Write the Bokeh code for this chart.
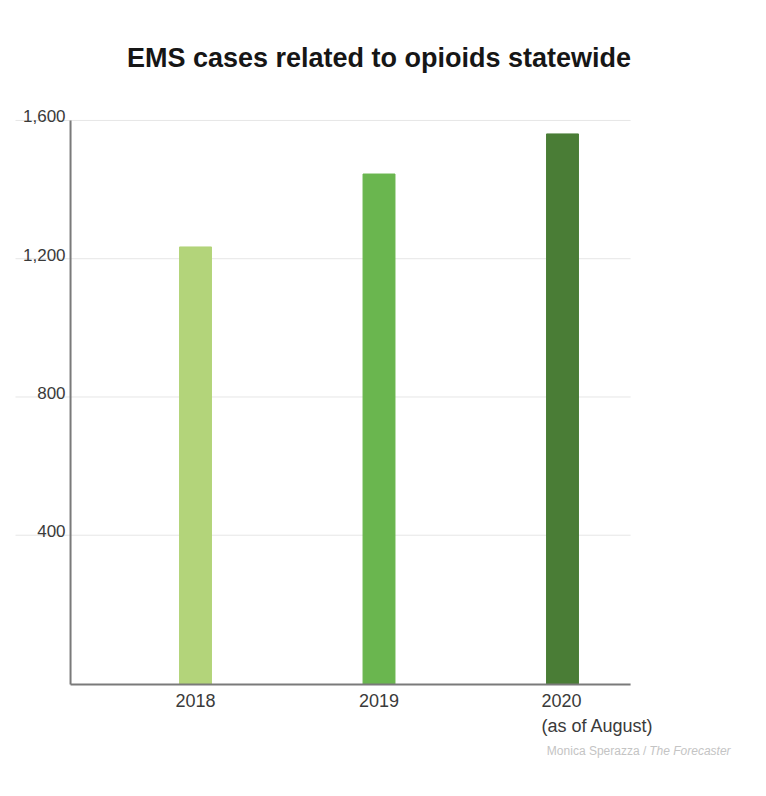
from bokeh.plotting import figure
from bokeh.models import Range1d, ColumnDataSource
from bokeh.core.properties import value
from bokeh.embed import file_html
from bokeh.resources import INLINE

# ---- data ----
categories = ["2018", "2019", "2020\n(as of August)"]
values = [1234, 1445, 1561]
colors = ["#b3d47a", "#6ab64f", "#4a7d36"]
y_ticks = [400, 800, 1200, 1600]
y_tick_labels = ["400", "800", "1,200", "1,600"]
title_text = "EMS cases related to opioids statewide"
credit_author = "Monica Sperazza / "
credit_outlet = "The Forecaster"

# ---- layout constants (data space of the full canvas) ----
X_START, X_END = -1.0627, 3.079
Y_START, Y_END = -338.5, 1947
AX_X = -0.681      # left axis position
AX_Y = -31.8       # baseline
GRID_L = -0.981    # left end of grid lines
GRID_R = 2.371     # right end of grid / baseline
FONT = "Liberation Sans"
LABEL_COLOR = "#3a3a3a"

xs = list(range(len(categories)))
src = ColumnDataSource(dict(x=xs, top=values, color=colors,
                            bottom=[AX_Y] * len(values)))

p = figure(width=760, height=790, output_backend="svg", toolbar_location=None,
           x_range=Range1d(X_START, X_END), y_range=Range1d(Y_START, Y_END),
           min_border=0)
p.outline_line_color = None
p.xaxis.visible = False
p.yaxis.visible = False
p.xgrid.grid_line_color = None
p.ygrid.grid_line_color = None

# grid lines
p.segment(x0=[GRID_L] * len(y_ticks), x1=[GRID_R] * len(y_ticks), y0=y_ticks, y1=y_ticks,
          line_color="#e6e6e6", line_width=1)

p.vbar(x="x", top="top", bottom="bottom", width=0.174, color="color", source=src)

# axis lines
p.segment(x0=[AX_X, AX_X], y0=[AX_Y, AX_Y], x1=[AX_X, GRID_R], y1=[max(y_ticks), AX_Y],
          line_color="#7a7a7a", line_width=2)

# y tick labels (sitting above grid lines)
p.text(x=[AX_X] * len(y_ticks), y=y_ticks, text=y_tick_labels,
       x_offset=-5, y_offset=-4, text_align="right", text_baseline="alphabetic",
       text_font=value(FONT), text_font_size="17px", text_color=LABEL_COLOR)

# x category labels
single = [(i, c) for i, c in zip(xs, categories) if "\n" not in c]
p.text(x=[i for i, _ in single], y=[AX_Y] * len(single), text=[c for _, c in single],
       y_offset=16, text_align="center", text_baseline="middle",
       text_font=value(FONT), text_font_size="18px", text_color=LABEL_COLOR)
for i, c in zip(xs, categories):
    if "\n" in c:
        for j, ln in enumerate(c.split("\n")):
            p.text(x=[i], y=[AX_Y], text=[ln], x_offset=-21, y_offset=16 + 26 * j,
                   text_align="left", text_baseline="middle",
                   text_font=value(FONT), text_font_size="18px", text_color=LABEL_COLOR)

# title
p.text(x=[1], y=[max(y_ticks)], text=[title_text], y_offset=-62,
       text_align="center", text_baseline="middle",
       text_font=value(FONT), text_font_style="bold",
       text_font_size="27px", text_color="#161616")

# credit
p.text(x=[GRID_R], y=[AX_Y], text=[credit_outlet], x_offset=100, y_offset=67,
       text_align="right", text_baseline="middle", text_font_style="italic",
       text_font=value(FONT), text_font_size="12px", text_color="#c4c4c4")
p.text(x=[GRID_R], y=[AX_Y], text=[credit_author], x_offset=19, y_offset=67,
       text_align="right", text_baseline="middle",
       text_font=value(FONT), text_font_size="12px", text_color="#c4c4c4")

open("out.html", "w").write(file_html(p, INLINE))
